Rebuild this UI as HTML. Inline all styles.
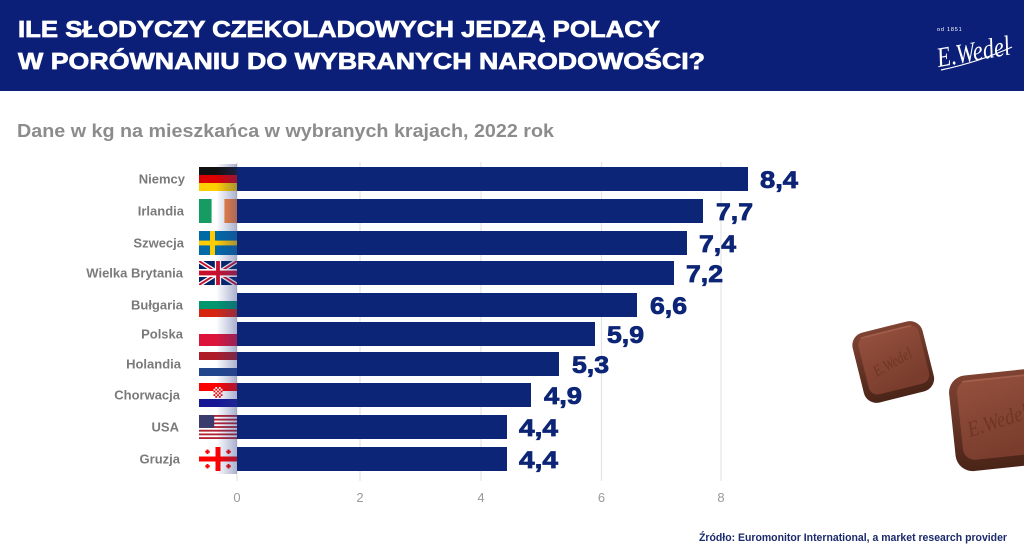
<!DOCTYPE html>
<html>
<head>
<meta charset="utf-8">
<style>
  html, body { margin:0; padding:0; background:#ffffff; }
  body { width:1024px; height:551px; overflow:hidden; }
  svg { display:block; }
  .sans { font-family: "Liberation Sans", "DejaVu Sans", sans-serif; }
  .script { font-family: "Liberation Serif", "DejaVu Serif", serif; font-style: italic; }
</style>
</head>
<body>
<svg width="1024" height="551" viewBox="0 0 1024 551" xmlns="http://www.w3.org/2000/svg">
  <defs>
    <linearGradient id="shade" x1="0" y1="0" x2="1" y2="0">
      <stop offset="0" stop-color="#2a3a85" stop-opacity="0"/>
      <stop offset="0.45" stop-color="#2a3a85" stop-opacity="0"/>
      <stop offset="1" stop-color="#2a3a85" stop-opacity="0.4"/>
    </linearGradient>
    <linearGradient id="choc" x1="0" y1="0" x2="0.3" y2="1">
      <stop offset="0" stop-color="#94503d"/>
      <stop offset="1" stop-color="#7a3d2d"/>
    </linearGradient>
    <linearGradient id="chocEdge" x1="0" y1="0" x2="0" y2="1">
      <stop offset="0" stop-color="#7e4232"/>
      <stop offset="1" stop-color="#4a2418"/>
    </linearGradient>
    <clipPath id="ukc"><rect width="60" height="30"/></clipPath>
  </defs>

  <!-- Header -->
  <rect x="0" y="0" width="1024" height="91" fill="#0b1f78"/>
  <text class="sans" x="18" y="37" font-size="23" font-weight="bold" fill="#ffffff" stroke="#ffffff" stroke-width="0.7" textLength="642" lengthAdjust="spacingAndGlyphs">ILE SŁODYCZY CZEKOLADOWYCH JEDZĄ POLACY</text>
  <text class="sans" x="18" y="69" font-size="23" font-weight="bold" fill="#ffffff" stroke="#ffffff" stroke-width="0.7" textLength="687" lengthAdjust="spacingAndGlyphs">W PORÓWNANIU DO WYBRANYCH NARODOWOŚCI?</text>

  <!-- Logo -->
  <text class="sans" x="937" y="31" font-size="5.5" fill="#ffffff" letter-spacing="0.8">od 1851</text>
  <g transform="rotate(-10 972 50)">
    <text class="script" x="936" y="61" font-size="28" fill="#ffffff" textLength="74" lengthAdjust="spacingAndGlyphs">E.Wedel</text>
  </g>
  <path d="M941 70 C 965 65, 990 57, 1012 47" stroke="#ffffff" stroke-width="1.2" fill="none"/>

  <!-- Subtitle -->
  <text class="sans" x="17" y="137" font-size="18" font-weight="bold" fill="#8c8c8c" textLength="537" lengthAdjust="spacingAndGlyphs">Dane w kg na mieszkańca w wybranych krajach, 2022 rok</text>

  <!-- Gridlines -->
  <g stroke="#e4e4e4" stroke-width="1.2">
    <line x1="237" y1="162" x2="237" y2="481"/>
    <line x1="360" y1="162" x2="360" y2="481"/>
    <line x1="481" y1="162" x2="481" y2="481"/>
    <line x1="601.5" y1="162" x2="601.5" y2="481"/>
    <line x1="721" y1="162" x2="721" y2="481"/>
  </g>

  <!-- Bars -->
  <g fill="#0c2576">
    <rect x="237" y="167" width="511" height="24"/>
    <rect x="237" y="199" width="466" height="24"/>
    <rect x="237" y="231" width="450" height="24"/>
    <rect x="237" y="261" width="437" height="24"/>
    <rect x="237" y="293" width="400" height="24"/>
    <rect x="237" y="322" width="358" height="24"/>
    <rect x="237" y="352" width="322" height="24"/>
    <rect x="237" y="383" width="294" height="24"/>
    <rect x="237" y="415" width="270" height="24"/>
    <rect x="237" y="447" width="270" height="24"/>
  </g>

  <!-- Value labels -->
  <g class="sans" font-size="24" font-weight="bold" fill="#0c2576" stroke="#0c2576" stroke-width="0.8">
    <text x="760" y="188" textLength="38" lengthAdjust="spacingAndGlyphs">8,4</text>
    <text x="716" y="220" textLength="37" lengthAdjust="spacingAndGlyphs">7,7</text>
    <text x="699" y="252" textLength="37" lengthAdjust="spacingAndGlyphs">7,4</text>
    <text x="686" y="282" textLength="37" lengthAdjust="spacingAndGlyphs">7,2</text>
    <text x="650" y="314" textLength="37" lengthAdjust="spacingAndGlyphs">6,6</text>
    <text x="607" y="343" textLength="37" lengthAdjust="spacingAndGlyphs">5,9</text>
    <text x="572" y="373" textLength="37" lengthAdjust="spacingAndGlyphs">5,3</text>
    <text x="544" y="404" textLength="38" lengthAdjust="spacingAndGlyphs">4,9</text>
    <text x="519" y="436" textLength="39" lengthAdjust="spacingAndGlyphs">4,4</text>
    <text x="519" y="468" textLength="39" lengthAdjust="spacingAndGlyphs">4,4</text>
  </g>

  <!-- Category labels -->
  <g class="sans" font-size="13" font-weight="bold" fill="#7a7a7a" text-anchor="end">
    <text x="185" y="183.5">Niemcy</text>
    <text x="184" y="215.5">Irlandia</text>
    <text x="184" y="247.5">Szwecja</text>
    <text x="183" y="277.5">Wielka Brytania</text>
    <text x="183" y="309.5">Bułgaria</text>
    <text x="183" y="338.5">Polska</text>
    <text x="181" y="368.5">Holandia</text>
    <text x="180" y="399.5">Chorwacja</text>
    <text x="179" y="431.5">USA</text>
    <text x="180" y="463.5">Gruzja</text>
  </g>

  <!-- Flags -->
  <g transform="translate(199 167)">
    <rect width="38" height="8" fill="#111"/>
    <rect y="8" width="38" height="8" fill="#dd0000"/>
    <rect y="16" width="38" height="8" fill="#ffce00"/>
  </g>
  <g transform="translate(199 199)">
    <rect width="12.7" height="24" fill="#169b62"/>
    <rect x="12.7" width="12.7" height="24" fill="#ffffff"/>
    <rect x="25.4" width="12.6" height="24" fill="#ff883e"/>
  </g>
  <g transform="translate(199 231)">
    <rect width="38" height="24" fill="#006aa7"/>
    <rect x="11" width="5" height="24" fill="#fecc00"/>
    <rect y="9.6" width="38" height="4.8" fill="#fecc00"/>
  </g>
  <g transform="translate(199 261) scale(0.6333 0.8)">
    <g clip-path="url(#ukc)">
      <rect width="60" height="30" fill="#012169"/>
      <path d="M0,0 L60,30 M60,0 L0,30" stroke="#ffffff" stroke-width="6"/>
      <path d="M0,0 L60,30 M60,0 L0,30" stroke="#C8102E" stroke-width="2.5"/>
      <path d="M30,0 V30 M0,15 H60" stroke="#ffffff" stroke-width="10"/>
      <path d="M30,0 V30 M0,15 H60" stroke="#C8102E" stroke-width="6"/>
    </g>
  </g>
  <g transform="translate(199 293)">
    <rect width="38" height="8" fill="#ffffff"/>
    <rect y="8" width="38" height="8" fill="#00966e"/>
    <rect y="16" width="38" height="8" fill="#d62612"/>
  </g>
  <g transform="translate(199 322)">
    <rect width="38" height="12" fill="#ffffff"/>
    <rect y="12" width="38" height="12" fill="#dc143c"/>
  </g>
  <g transform="translate(199 352)">
    <rect width="38" height="8" fill="#ae1c28"/>
    <rect y="8" width="38" height="8" fill="#ffffff"/>
    <rect y="16" width="38" height="8" fill="#21468b"/>
  </g>
  <g transform="translate(199 383)">
    <rect width="38" height="8" fill="#ff0000"/>
    <rect y="8" width="38" height="8" fill="#ffffff"/>
    <rect y="16" width="38" height="8" fill="#171796"/>
    <rect x="14.5" y="4" width="9" height="11" fill="#ffffff"/>
    <g fill="#ff0000">
      <rect x="14.5" y="4" width="1.8" height="1.8"/><rect x="18.1" y="4" width="1.8" height="1.8"/><rect x="21.7" y="4" width="1.8" height="1.8"/>
      <rect x="16.3" y="5.8" width="1.8" height="1.8"/><rect x="19.9" y="5.8" width="1.8" height="1.8"/>
      <rect x="14.5" y="7.6" width="1.8" height="1.8"/><rect x="18.1" y="7.6" width="1.8" height="1.8"/><rect x="21.7" y="7.6" width="1.8" height="1.8"/>
      <rect x="16.3" y="9.4" width="1.8" height="1.8"/><rect x="19.9" y="9.4" width="1.8" height="1.8"/>
      <rect x="14.5" y="11.2" width="1.8" height="1.8"/><rect x="18.1" y="11.2" width="1.8" height="1.8"/><rect x="21.7" y="11.2" width="1.8" height="1.8"/>
      <rect x="16.3" y="13" width="1.8" height="1.8"/><rect x="19.9" y="13" width="1.8" height="1.8"/>
    </g>
  </g>
  <g transform="translate(199 415)">
    <rect width="38" height="24" fill="#ffffff"/>
    <g fill="#b22234">
      <rect y="0" width="38" height="1.846"/>
      <rect y="3.692" width="38" height="1.846"/>
      <rect y="7.385" width="38" height="1.846"/>
      <rect y="11.077" width="38" height="1.846"/>
      <rect y="14.769" width="38" height="1.846"/>
      <rect y="18.462" width="38" height="1.846"/>
      <rect y="22.154" width="38" height="1.846"/>
    </g>
    <rect width="15.2" height="12.9" fill="#3c3b6e"/>
  </g>
  <g transform="translate(199 447)">
    <rect width="38" height="24" fill="#ffffff"/>
    <rect x="16.5" width="5" height="24" fill="#ff0000"/>
    <rect y="9.5" width="38" height="5" fill="#ff0000"/>
    <g fill="#ff0000">
      <rect x="7.5" y="2.5" width="2" height="4.5"/><rect x="6.25" y="3.75" width="4.5" height="2"/>
      <rect x="28.5" y="2.5" width="2" height="4.5"/><rect x="27.25" y="3.75" width="4.5" height="2"/>
      <rect x="7.5" y="17" width="2" height="4.5"/><rect x="6.25" y="18.25" width="4.5" height="2"/>
      <rect x="28.5" y="17" width="2" height="4.5"/><rect x="27.25" y="18.25" width="4.5" height="2"/>
    </g>
  </g>

  <!-- Shading over flag column -->
  <rect x="199" y="164" width="38" height="310" fill="url(#shade)"/>

  <!-- Tick labels -->
  <g class="sans" font-size="13" fill="#9a9a9a" text-anchor="middle">
    <text x="237" y="502">0</text>
    <text x="360" y="502">2</text>
    <text x="481" y="502">4</text>
    <text x="601.5" y="502">6</text>
    <text x="721" y="502">8</text>
  </g>

  <!-- Source -->
  <text class="sans" x="699" y="541" font-size="11" font-weight="bold" fill="#1a2a6c" textLength="308" lengthAdjust="spacingAndGlyphs">Źródło: Euromonitor International, a market research provider</text>

  <!-- Chocolates -->
  <g transform="translate(893 361) rotate(-14)">
    <rect x="-36" y="-35" width="72" height="72" rx="13" fill="url(#chocEdge)"/>
    <rect x="-30" y="-31" width="62" height="60" rx="9" fill="url(#choc)"/>
    <path d="M-26 -30 H26" stroke="#b06a55" stroke-width="1.5" opacity="0.6"/>
    <g transform="rotate(-15)">
      <text class="script" x="-22" y="6" font-size="16" fill="#6a3223" opacity="0.8" textLength="42" lengthAdjust="spacingAndGlyphs">E.Wedel</text>
    </g>
  </g>
  <g transform="translate(1000 419) rotate(-6)">
    <rect x="-48" y="-47" width="98" height="96" rx="17" fill="url(#chocEdge)"/>
    <rect x="-40" y="-42" width="86" height="80" rx="12" fill="url(#choc)"/>
    <path d="M-34 -41 H40" stroke="#b06a55" stroke-width="1.8" opacity="0.6"/>
    <g transform="rotate(-12)">
      <text class="script" x="-34" y="8" font-size="22" fill="#6a3223" opacity="0.8" textLength="62" lengthAdjust="spacingAndGlyphs">E.Wedel</text>
    </g>
  </g>
</svg>
</body>
</html>
